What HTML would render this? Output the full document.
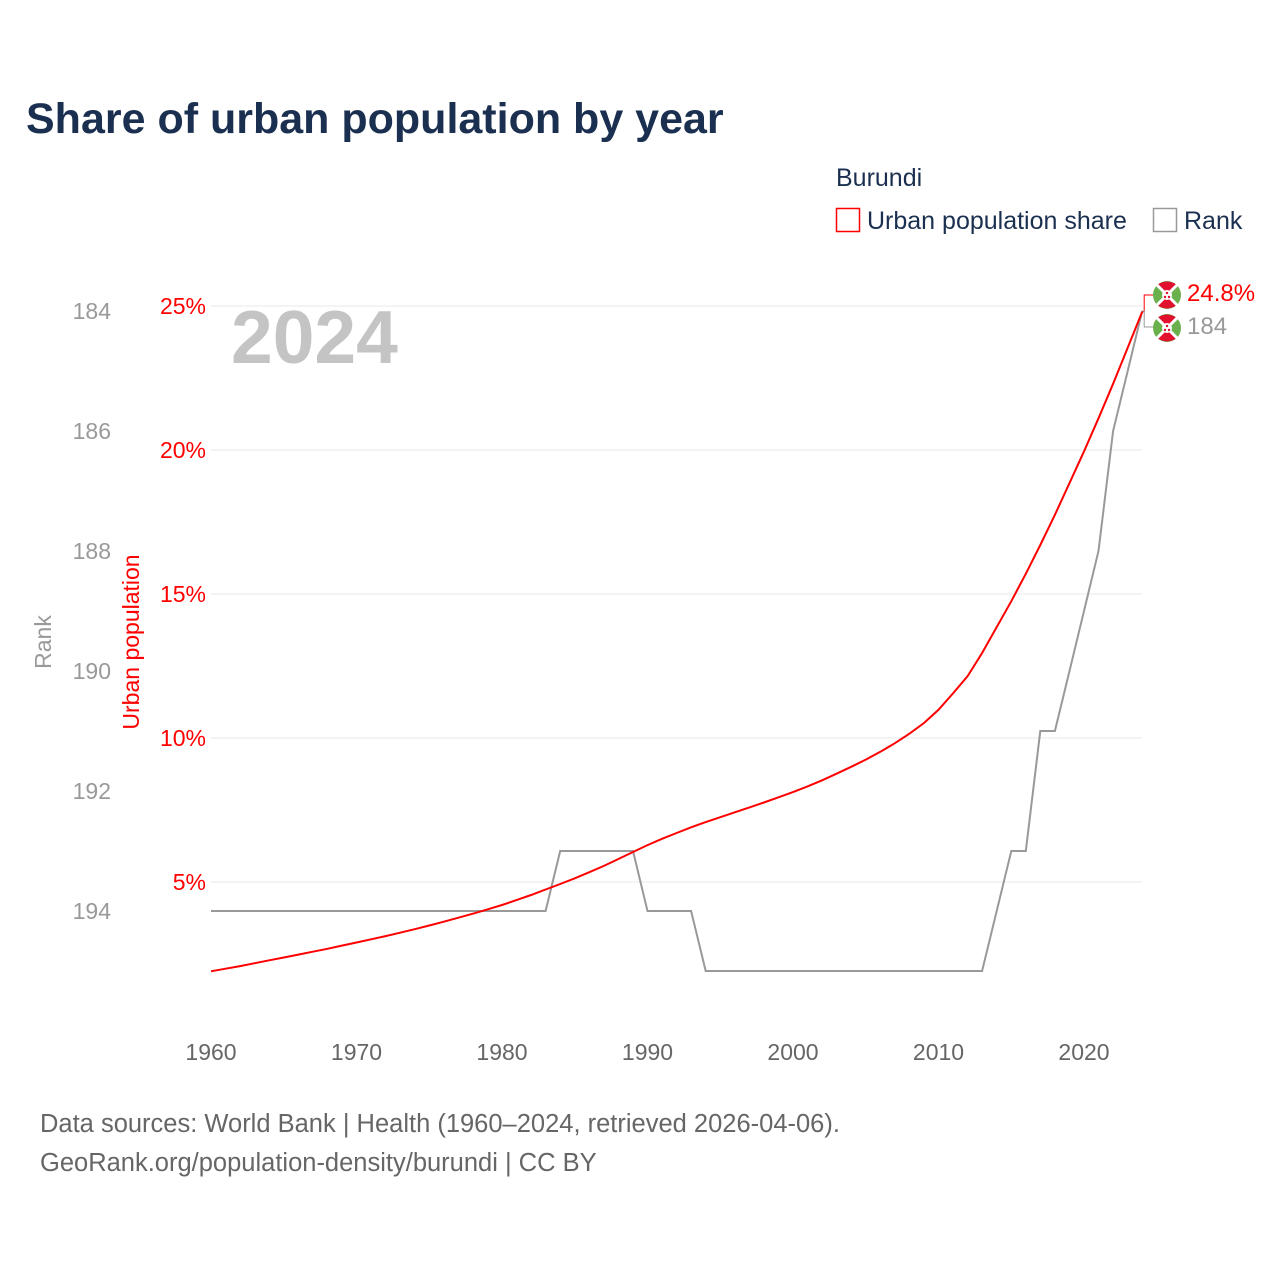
<!DOCTYPE html>
<html><head><meta charset="utf-8"><style>
body{margin:0;background:#fff;}
svg text{font-family:"Liberation Sans",sans-serif;}
</style></head><body>
<svg id="chart" width="1280" height="1280" xmlns="http://www.w3.org/2000/svg">
<defs>
<g id="flag">
<circle r="14" fill="#6ab04c"/>
<path d="M-10,-10 L10,-10 L0,0 Z" fill="#e0102e"/>
<path d="M-10,10 L10,10 L0,0 Z" fill="#e0102e"/>
<path d="M-10,-10 Q0,-17 10,-10 Z" fill="#e0102e"/>
<path d="M-10,10 Q0,17 10,10 Z" fill="#e0102e"/>
<line x1="-10" y1="-10" x2="10" y2="10" stroke="#fff" stroke-width="3"/>
<line x1="10" y1="-10" x2="-10" y2="10" stroke="#fff" stroke-width="3"/>
<circle r="5" fill="#fff"/>
<circle cx="0" cy="-2" r="1.2" fill="#e0102e"/><circle cx="-2" cy="2" r="1.2" fill="#e0102e"/><circle cx="2" cy="2" r="1.2" fill="#e0102e"/>
</g>
</defs>
<text x="26" y="133" font-size="43" font-weight="bold" fill="#1b3050">Share of urban population by year</text>
<text x="836" y="186" font-size="25" fill="#1b3050">Burundi</text>
<g>
<rect x="836.5" y="208.5" width="23" height="23" fill="none" stroke="#ff0000" stroke-width="1.5"/>
<text x="867" y="229" font-size="25" fill="#1b3050">Urban population share</text></g>
<g>
<rect x="1153.5" y="208.5" width="23" height="23" fill="none" stroke="#999" stroke-width="1.5"/>
<text x="1184" y="229" font-size="25" fill="#1b3050">Rank</text></g>
<text x="231" y="363" font-size="75" font-weight="bold" fill="#c4c4c4">2024</text>
<g id="grid"></g>
<g id="axes"></g>
<text transform="translate(51,642) rotate(-90)" text-anchor="middle" font-size="23" fill="#999">Rank</text>
<text transform="translate(139,642) rotate(-90)" text-anchor="middle" font-size="23" fill="#ff0000">Urban population</text>
<g id="series"></g>
<text x="40" y="1132" font-size="25.5" fill="#666">Data sources: World Bank | Health (1960–2024, retrieved 2026-04-06).</text>
<text x="40" y="1171" font-size="25.5" fill="#666">GeoRank.org/population-density/burundi | CC BY</text>
</svg>
<script>
const years=[];for(let y=1960;y<=2024;y++)years.push(y);
const urbanShare=[1.90,1.99,2.08,2.18,2.28,2.38,2.48,2.58,2.68,2.79,2.90,
3.01,3.12,3.24,3.36,3.49,3.62,3.76,3.90,4.05,4.20,
4.37,4.55,4.74,4.93,5.13,5.34,5.56,5.80,6.04,6.28,
6.50,6.70,6.90,7.08,7.25,7.42,7.59,7.76,7.94,8.12,
8.32,8.53,8.76,9.00,9.25,9.52,9.82,10.15,10.52,10.98,
11.55,12.15,12.95,13.85,14.75,15.70,16.70,17.75,18.85,19.95,
21.1,22.3,23.55,24.8];
const rankValues=[194,194,194,194,194,194,194,194,194,194,194,194,194,194,194,194,194,194,194,194,194,194,194,194,
193,193,193,193,193,193,194,194,194,194,
195,195,195,195,195,195,195,195,195,195,195,195,195,195,195,195,195,195,195,195,
194,193,193,191,191,190,189,188,186,185,184];
const xTicks=[1960,1970,1980,1990,2000,2010,2020];
const pctTicks=[5,10,15,20,25];
const pctLabels=["5%","10%","15%","20%","25%"];
const rankTicks=[184,186,188,190,192,194];
const NS="http://www.w3.org/2000/svg";
const X=y=>211+(y-1960)*873/60;
const YP=p=>1026-p*28.8;
const YR=r=>311+(r-184)*60;
function mk(tag,attrs,parent,txt){const e=document.createElementNS(NS,tag);for(const k in attrs)e.setAttribute(k,attrs[k]);if(txt!==undefined)e.textContent=txt;parent.appendChild(e);return e;}
const grid=document.getElementById('grid'),axes=document.getElementById('axes'),ser=document.getElementById('series');
pctTicks.forEach((p,i)=>{
 const l=mk('line',{x1:211,x2:1142,y1:YP(p),y2:YP(p),stroke:'#e8e8e8','stroke-width':1},grid);
 
 
 const t=mk('text',{x:206,y:YP(p)+8,'text-anchor':'end','font-size':23,fill:'#ff0000'},axes,pctLabels[i]);
 
 
});
rankTicks.forEach(r=>{
 const t=mk('text',{x:111,y:YR(r)+8,'text-anchor':'end','font-size':23,fill:'#999'},axes,String(r));
 
 
});
xTicks.forEach(y=>{
 const t=mk('text',{x:X(y),y:1060,'text-anchor':'middle','font-size':23,fill:'#666'},axes,String(y));
 
 
});
let d='';rankValues.forEach((r,i)=>{d+=(i?'L':'M')+X(years[i]).toFixed(1)+','+YR(r).toFixed(1);});
const rl=mk('path',{d:d,fill:'none',stroke:'#999','stroke-width':2},ser);


d='';urbanShare.forEach((p,i)=>{d+=(i?'L':'M')+X(years[i]).toFixed(1)+','+YP(p).toFixed(1);});
const ul=mk('path',{d:d,fill:'none',stroke:'#ff0000','stroke-width':2},ser);


const last=years.length-1,lx=X(years[last]);
const uy=YP(urbanShare[last]),ry=YR(rankValues[last]);
mk('path',{d:`M${lx},${uy} L${lx+2},${uy} L${lx+2},295 L${lx+12},295`,fill:'none',stroke:'#ff0000','stroke-width':1},ser);
mk('path',{d:`M${lx},${ry} L${lx+2},${ry} L${lx+2},327 L${lx+12},327`,fill:'none',stroke:'#999','stroke-width':1},ser);
const f1=mk('use',{href:'#flag',x:1167,y:295},ser);


const f2=mk('use',{href:'#flag',x:1167,y:328},ser);


const v1=mk('text',{x:1187,y:301,'font-size':24,fill:'#ff0000'},ser,urbanShare[last].toFixed(1)+'%');


const v2=mk('text',{x:1187,y:334,'font-size':24,fill:'#999'},ser,String(rankValues[last]));


</script>
</body></html>
